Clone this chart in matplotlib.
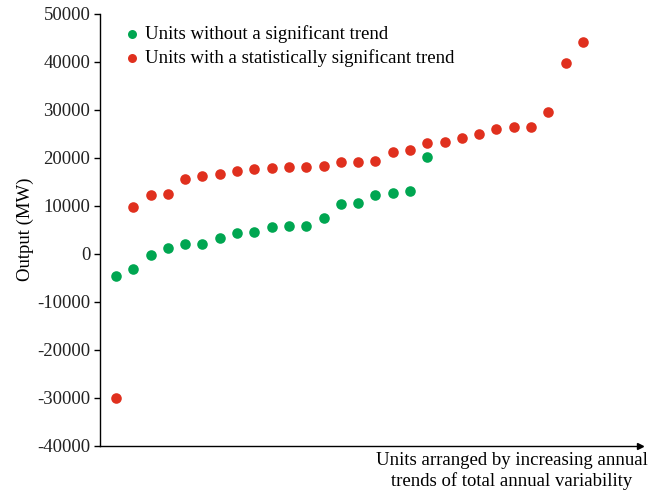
import matplotlib
matplotlib.use("Agg")
import matplotlib.pyplot as plt

# units sorted by trend, output in MW
red_units = list(range(1, 29))
red_output = [-30000, 9700, 12300, 12500, 15500, 16200, 16700, 17300, 17600, 17800,
              18000, 18000, 18300, 19000, 19000, 19400, 21200, 21700, 23100, 23300,
              24100, 24900, 25900, 26400, 26400, 29500, 39700, 44000]

green_units = list(range(1, 20))
green_output = [-4700, -3200, -200, 1250, 2100, 2100, 3250, 4400, 4600, 5500,
                5800, 5800, 7400, 10400, 10600, 12300, 12700, 13100, 20100]

yticks = [-40000, -30000, -20000, -10000, 0, 10000, 20000, 30000, 40000, 50000]

green = "#00a651"
red = "#e0301e"

plt.rcParams["font.family"] = "Liberation Serif"
plt.rcParams["axes.unicode_minus"] = False

fig = plt.figure(figsize=(6.54, 4.94), dpi=100)
ax = fig.add_axes([0.1529, 0.0978, 0.8257, 0.8745])

ax.scatter(green_units, green_output, s=58, color=green, linewidths=0, zorder=3,
           label="Units without a significant trend")
ax.scatter(red_units, red_output, s=58, color=red, linewidths=0, zorder=3,
           label="Units with a statistically significant trend")

ax.set_xlim(0.075, 31.3)
ax.set_ylim(-40000, 50000)
ax.set_yticks(yticks)
ax.set_xticks([])
ax.tick_params(axis="y", labelsize=13.5, length=4, width=1, direction="out", pad=3)
for lab in ax.get_yticklabels():
    lab.set_color("#222222")

ax.spines["top"].set_visible(False)
ax.spines["right"].set_visible(False)
ax.spines["left"].set_linewidth(1)
ax.spines["bottom"].set_linewidth(1)

# arrow head at the end of the x axis
ax.plot(1, 0, marker=">", color="black", markersize=5,
        transform=ax.transAxes, clip_on=False)

ax.set_ylabel("Output (MW)", fontsize=13.5, labelpad=2)

fig.text(0.7824, 0.085, "Units arranged by increasing annual\ntrends of total annual variability",
         ha="center", va="top", fontsize=13.5, linespacing=1.2, multialignment="center")

ax.legend(loc="upper left", bbox_to_anchor=(0.028, 0.99), frameon=False, fontsize=13.5,
          handlelength=1.0, handletextpad=0.2, labelspacing=0.3, markerscale=0.85,
          borderaxespad=0)

fig.savefig("out.png", dpi=100)
